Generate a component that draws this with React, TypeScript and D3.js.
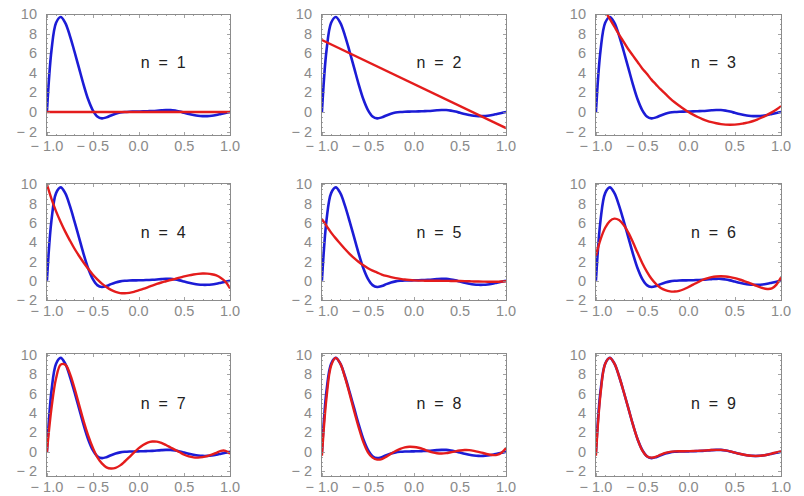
import React, { useRef, useEffect } from 'react';
import * as d3 from 'd3';

// sample positions shared by the curves
const xGrid = [
  -1, -0.95, -0.9, -0.85, -0.8, -0.75, -0.7, -0.65, -0.6, -0.55, -0.5,
  -0.45, -0.4, -0.35, -0.3, -0.25, -0.2, -0.15, -0.1, -0.05, 0,
  0.05, 0.1, 0.15, 0.2, 0.25, 0.3, 0.35, 0.4, 0.45, 0.5,
  0.55, 0.6, 0.65, 0.7, 0.75, 0.8, 0.85, 0.9, 0.95, 1,
];
const xEnds = [-1, 1];

// the target function (blue), same in every panel
const blueY = [
  0, 6.3, 9.1, 9.7, 9.1, 7.8, 6.2, 4.5, 2.8, 1.3, 0.2,
  -0.45, -0.65, -0.55, -0.35, -0.18, -0.06, 0, 0.03, 0.04, 0.05,
  0.06, 0.08, 0.1, 0.13, 0.17, 0.2, 0.2, 0.14, 0.04, -0.08,
  -0.2, -0.3, -0.38, -0.42, -0.42, -0.38, -0.3, -0.2, -0.1, 0,
];

// approximations (red)
const red1Y = [0, 0];
const red2Y = [7.35, -1.65];
const red3Y = [
  12.1, 11.2, 10.3, 9.5, 8.7, 7.9, 7.15, 6.4, 5.75, 5.1, 4.45,
  3.9, 3.3, 2.8, 2.3, 1.85, 1.4, 1.0, 0.64, 0.3, 0,
  -0.27, -0.51, -0.72, -0.9, -1.04, -1.15, -1.24, -1.29, -1.3, -1.29,
  -1.24, -1.15, -1.06, -0.92, -0.74, -0.54, -0.3, -0.04, 0.26, 0.6,
];
const red4Y = [
  10, 8.5, 7.2, 6.1, 5.1, 4.2, 3.35, 2.6, 1.9, 1.25, 0.65,
  0.15, -0.3, -0.65, -0.95, -1.15, -1.28, -1.3, -1.25, -1.15, -1.0,
  -0.85, -0.68, -0.5, -0.33, -0.18, -0.05, 0.08, 0.2, 0.32, 0.45,
  0.56, 0.65, 0.72, 0.75, 0.74, 0.68, 0.55, 0.3, -0.1, -0.8,
];
const red5Y = [
  6.4, 5.7, 5.0, 4.4, 3.85, 3.3, 2.8, 2.35, 1.95, 1.6, 1.3,
  1.05, 0.85, 0.65, 0.5, 0.38, 0.28, 0.2, 0.13, 0.08, 0.04,
  0.02, 0.01, 0, 0, 0, -0.01, -0.01, -0.02, -0.02, -0.03,
  -0.04, -0.05, -0.07, -0.08, -0.09, -0.1, -0.1, -0.1, -0.08, -0.05,
];
const red6Y = [
  2.6, 4.3, 5.5, 6.2, 6.45, 6.3, 5.8, 5.0, 4.0, 2.9, 1.85,
  0.95, 0.2, -0.35, -0.75, -0.98, -1.1, -1.12, -1.05, -0.88, -0.65,
  -0.4, -0.15, 0.08, 0.25, 0.38, 0.45, 0.47, 0.45, 0.38, 0.27,
  0.13, -0.03, -0.2, -0.4, -0.58, -0.75, -0.85, -0.8, -0.4, 0.35,
];
const red7Y = [
  0, 4.5, 7.6, 9.0, 9.0, 8.1, 6.6, 4.9, 3.2, 1.7, 0.45,
  -0.55, -1.2, -1.6, -1.72, -1.65, -1.4, -1.0, -0.55, -0.08, 0.35,
  0.7, 0.95, 1.06, 1.05, 0.92, 0.7, 0.45, 0.2, -0.05, -0.3,
  -0.48, -0.58, -0.6, -0.55, -0.45, -0.3, -0.1, 0.1, 0.1, -0.2,
];
const red8Y = [
  -0.4, 5.6, 8.9, 9.7, 9.1, 7.7, 6.0, 4.2, 2.5, 1.0, -0.05,
  -0.6, -0.8, -0.75, -0.5, -0.2, 0.08, 0.3, 0.45, 0.52, 0.5,
  0.42, 0.28, 0.1, -0.05, -0.15, -0.18, -0.14, -0.05, 0.05, 0.13,
  0.18, 0.17, 0.1, 0, -0.12, -0.25, -0.33, -0.32, -0.1, 0.4,
];
const red9Y = [
  -0.4, 6.0, 9.1, 9.7, 9.1, 7.8, 6.2, 4.5, 2.8, 1.3, 0.15,
  -0.45, -0.6, -0.5, -0.3, -0.12, 0, 0.05, 0.06, 0.06, 0.07,
  0.08, 0.1, 0.12, 0.15, 0.18, 0.2, 0.2, 0.15, 0.05, -0.08,
  -0.2, -0.3, -0.38, -0.42, -0.42, -0.38, -0.3, -0.18, -0.05, 0.05,
];

const panelLabels = ['n = 1', 'n = 2', 'n = 3', 'n = 4', 'n = 5', 'n = 6', 'n = 7', 'n = 8', 'n = 9'];
const xTickValues = [-1, -0.5, 0, 0.5, 1];
const yTickValues = [-2, 0, 2, 4, 6, 8, 10];

const redSeries = [
  { xs: xEnds, ys: red1Y },
  { xs: xEnds, ys: red2Y },
  { xs: xGrid, ys: red3Y },
  { xs: xGrid, ys: red4Y },
  { xs: xGrid, ys: red5Y },
  { xs: xGrid, ys: red6Y },
  { xs: xGrid, ys: red7Y },
  { xs: xGrid, ys: red8Y },
  { xs: xGrid, ys: red9Y },
];

// frame placement (pixels) and y range per row
const cols = [[46, 231], [321, 507], [595, 782]];
const rows = [
  { top: 14, bottom: 136, domain: [-2.45, 10.0] },
  { top: 183, bottom: 301, domain: [-2.1, 10.15] },
  { top: 353, bottom: 477, domain: [-2.6, 10.2] },
];

const fmtTick = (v: number, digits: number) =>
  v < 0 ? `\u2212 ${Math.abs(v).toFixed(digits)}` : v.toFixed(digits);

const App = () => {
  const svgRef = useRef<SVGSVGElement>(null);

  useEffect(() => {
    const svg = d3.select(svgRef.current);
    svg.selectAll('*').remove();

    const font = '"Liberation Sans", Arial, sans-serif';
    const frameColor = '#8c8c8c';
    const labelColor = '#8a8a8a';

    panelLabels.forEach((label, i) => {
      const col = cols[i % 3];
      const row = rows[Math.floor(i / 3)];

      const xScale = d3.scaleLinear().domain([-1.01, 1.01]).range([col[0], col[1]]);
      const yScale = d3.scaleLinear().domain(row.domain).range([row.bottom, row.top]);

      const g = svg.append('g');

      // clip region for the curves
      const clipId = `clip-${i}`;
      svg.append('clipPath').attr('id', clipId)
        .append('rect')
        .attr('x', col[0]).attr('y', row.top)
        .attr('width', col[1] - col[0]).attr('height', row.bottom - row.top);

      const curves = g.append('g').attr('clip-path', `url(#${clipId})`);

      const blueLine = d3.line<number>()
        .x((_, k) => xScale(xGrid[k]))
        .y(d => yScale(d))
        .curve(d3.curveCatmullRom.alpha(0.5));

      curves.append('path')
        .attr('d', blueLine(blueY))
        .attr('fill', 'none')
        .attr('stroke', '#1c1cd6')
        .attr('stroke-width', 2.6)
        .attr('stroke-linejoin', 'round');

      const rs = redSeries[i];
      const redLine = d3.line<number>()
        .x((_, k) => xScale(rs.xs[k]))
        .y(d => yScale(d))
        .curve(d3.curveCatmullRom.alpha(0.5));

      curves.append('path')
        .attr('d', redLine(rs.ys))
        .attr('fill', 'none')
        .attr('stroke', '#e41c1c')
        .attr('stroke-width', 2.4)
        .attr('stroke-linejoin', 'round');

      // frame
      g.append('rect')
        .attr('x', col[0] + 0.5).attr('y', row.top + 0.5)
        .attr('width', col[1] - col[0] - 1).attr('height', row.bottom - row.top - 1)
        .attr('fill', 'none')
        .attr('stroke', frameColor)
        .attr('stroke-width', 1);

      // ticks on all four sides, pointing inward
      const ticks = g.append('g').attr('stroke', frameColor).attr('stroke-width', 0.8);
      d3.range(-1, 1.0001, 0.1).forEach(v => {
        const major = xTickValues.some(t => Math.abs(t - v) < 1e-6);
        const len = major ? 4 : 2;
        const x = Math.round(xScale(v)) + 0.5;
        ticks.append('line').attr('x1', x).attr('x2', x).attr('y1', row.bottom).attr('y2', row.bottom - len);
        ticks.append('line').attr('x1', x).attr('x2', x).attr('y1', row.top).attr('y2', row.top + len);
      });
      d3.range(-2, 10.0001, 0.5).forEach(v => {
        const major = yTickValues.some(t => Math.abs(t - v) < 1e-6);
        const len = major ? 4 : 2;
        const y = Math.round(yScale(v)) + 0.5;
        ticks.append('line').attr('y1', y).attr('y2', y).attr('x1', col[0]).attr('x2', col[0] + len);
        ticks.append('line').attr('y1', y).attr('y2', y).attr('x1', col[1]).attr('x2', col[1] - len);
      });

      // tick labels
      g.selectAll('.xl')
        .data(xTickValues)
        .enter()
        .append('text')
        .attr('x', d => xScale(d))
        .attr('y', row.bottom + 15)
        .attr('text-anchor', 'middle')
        .attr('font-family', font)
        .attr('font-size', 14.5)
        .attr('fill', labelColor)
        .text(d => fmtTick(d, 1));

      g.selectAll('.yl')
        .data(yTickValues)
        .enter()
        .append('text')
        .attr('x', col[0] - 9)
        .attr('y', d => yScale(d) + 5)
        .attr('text-anchor', 'end')
        .attr('font-family', font)
        .attr('font-size', 14.5)
        .attr('fill', labelColor)
        .text(d => fmtTick(d, 0));

      // panel label
      g.append('text')
        .attr('x', xScale(0.27))
        .attr('y', yScale(5) + 5.5)
        .attr('text-anchor', 'middle')
        .attr('font-family', font)
        .attr('font-size', 16)
        .attr('fill', '#222')
        .style('white-space', 'pre')
        .text(label.replace(/ /g, '  '));
    });
  }, []);

  return (
    <svg
      ref={svgRef}
      width={804}
      height={496}
      style={{ position: 'absolute', left: 0, top: 0, background: '#fff' }}
    ></svg>
  );
};

export default App;
